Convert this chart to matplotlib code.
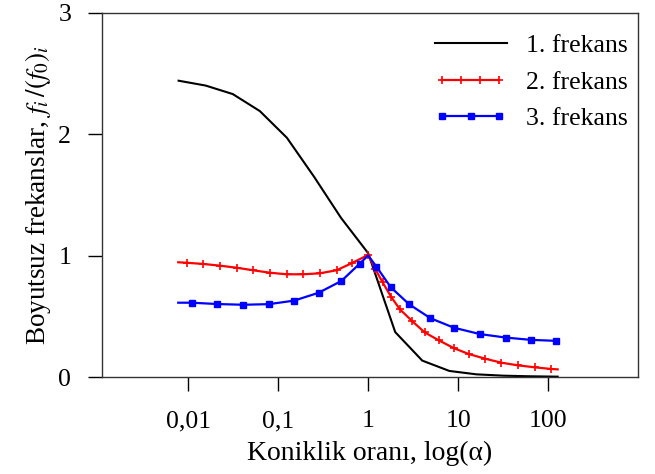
import numpy as np
import matplotlib
matplotlib.use("Agg")
import matplotlib.pyplot as plt
from matplotlib.ticker import FixedLocator, NullLocator
from matplotlib.legend_handler import HandlerLine2D

plt.rcParams["font.family"] = ["Liberation Serif", "DejaVu Serif"]
plt.rcParams["mathtext.fontset"] = "stix"

# 1. frekans (black), alpha = 2^k
alpha_1 = [0.0078125, 0.015625, 0.03125, 0.0625, 0.125, 0.25, 0.5, 1, 2, 4, 8, 16, 32, 64, 128]
freq_1 = [2.44, 2.40, 2.33, 2.19, 1.97, 1.65, 1.31, 1.02, 0.37, 0.135, 0.05, 0.022, 0.011, 0.006, 0.003]

# 2. frekans (red)
alpha_2 = [0.00774, 0.0096, 0.0147, 0.0225, 0.0345, 0.0527, 0.0807, 0.124, 0.190, 0.290, 0.446, 0.655, 1.0,
           1.20, 1.445, 1.80, 2.25, 3.08, 4.24, 6.11, 9.08, 13.2, 20.0, 30.3, 46.5, 71.1, 109, 128]
freq_2 = [0.945, 0.941, 0.931, 0.917, 0.900, 0.879, 0.859, 0.846, 0.846, 0.854, 0.879, 0.937, 1.005,
          0.89, 0.781, 0.661, 0.558, 0.461, 0.368, 0.302, 0.236, 0.189, 0.151, 0.118, 0.096, 0.080, 0.066, 0.063]

# 3. frekans (blue)
alpha_3 = [0.00774, 0.0109, 0.0211, 0.0408, 0.0789, 0.150, 0.282, 0.504, 0.802, 1.0,
           1.233, 1.786, 2.858, 4.93, 8.99, 17.4, 33.7, 64.3, 122, 128]
freq_3 = [0.612, 0.612, 0.601, 0.595, 0.600, 0.629, 0.694, 0.791, 0.932, 1.001,
          0.910, 0.739, 0.599, 0.484, 0.406, 0.354, 0.325, 0.306, 0.298, 0.297]

xticks = [0.01, 0.1, 1, 10, 100]
xtick_labels = ["0,01", "0,1", "1", "10", "100"]
yticks = [0, 1, 2, 3]

fig = plt.figure(figsize=(6.55, 4.74), dpi=100)
ax = fig.add_axes([0.1553, 0.2046, 0.974 - 0.1553, 0.9732 - 0.2046])

ax.plot(alpha_1, freq_1, color="black", lw=1.5, label="1. frekans")
ax.plot(alpha_2, freq_2, color="red", lw=1.6, marker="+", ms=6, mew=1.2,
        markevery=list(range(1, len(alpha_2) - 1)), label="2. frekans")
ax.plot(alpha_3, freq_3, color="blue", lw=1.6, marker="s", ms=4.5, mew=1.0,
        markevery=[i for i in range(1, len(alpha_3) - 1) if i != 9], label="3. frekans")

ax.set_xscale("log")
ax.set_xlim(10 ** -2.962, 10 ** 3.0)
ax.set_ylim(0, 3)
ax.xaxis.set_major_locator(FixedLocator(xticks))
ax.xaxis.set_minor_locator(NullLocator())
ax.set_xticklabels(xtick_labels)
ax.set_yticks(yticks)
ax.tick_params(direction="out", length=10, width=1, labelsize=18.5)
ax.tick_params(axis="x", pad=14)
ax.tick_params(axis="y", pad=12)

for s in ax.spines.values():
    s.set_linewidth(1.0)
    s.set_color("#333333")

ax.set_xlabel("Koniklik oranı, log(α)", fontsize=20, labelpad=6)
ax.set_ylabel("Boyutsuz frekanslar, $f_i\\,/(f_0)_i$", fontsize=19.5, labelpad=4)

handles, labels = ax.get_legend_handles_labels()
ax.legend(handles, labels, loc="upper right", frameon=False, fontsize=18.5,
          handlelength=2.8, labelspacing=0.53, handletextpad=0.75,
          borderaxespad=0, bbox_to_anchor=(1.0, 0.97),
          handler_map={handles[1]: HandlerLine2D(numpoints=4),
                       handles[2]: HandlerLine2D(numpoints=3)})

fig.savefig("out.png", dpi=100)
